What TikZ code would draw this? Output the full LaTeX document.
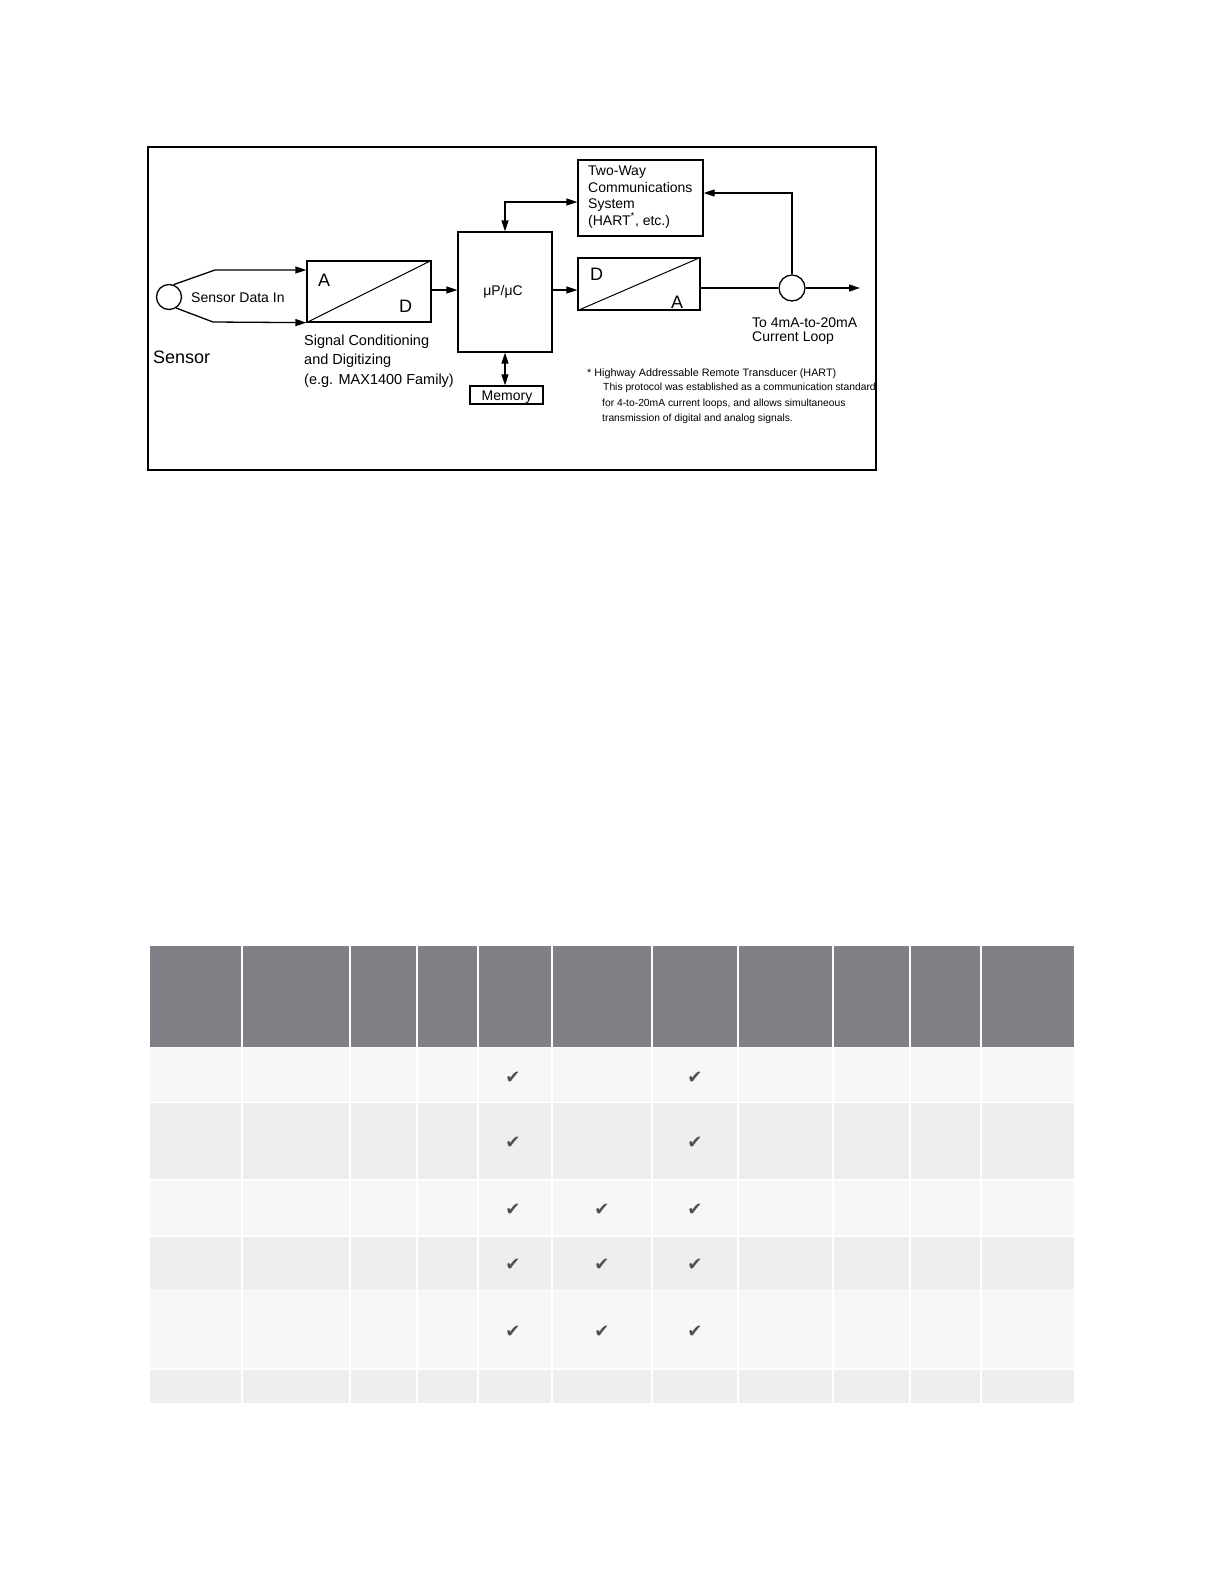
\documentclass[tikz,border=0pt]{standalone}
\usepackage{fontspec}
\setmainfont{Liberation Sans}
\newfontfamily\dejavu{DejaVu Sans}
\usetikzlibrary{arrows.meta}
\definecolor{hdr}{RGB}{128,129,134}
\definecolor{rowa}{RGB}{246,247,249}
\definecolor{rowb}{RGB}{237,238,240}
\definecolor{chk}{RGB}{80,80,80}
\tikzset{
  blk/.style={draw, line width=1.3pt, inner sep=0pt},
  lbl/.style={inner sep=0pt, anchor=base west, font=\fontsize{14}{16}\selectfont},
  big/.style={inner sep=0pt, anchor=base west, font=\fontsize{18}{20}\selectfont},
  note/.style={inner sep=0pt, anchor=base west, font=\fontsize{10.3}{12}\selectfont},
  arr/.style={line width=1.3pt, -{Triangle[length=11pt,width=7pt]}},
  arrboth/.style={line width=1.3pt, {Triangle[length=11pt,width=7pt]}-{Triangle[length=11pt,width=7pt]}},
  wire/.style={line width=1.3pt},
  chkmark/.style={inner sep=0pt, text=chk, font=\dejavu\fontsize{18}{18}\selectfont},
  gap/.style={white, line width=1.6pt}
}
\begin{document}
\begin{tikzpicture}[x=1pt,y=-1pt]
\useasboundingbox (0,0) rectangle (1225,1585);
\fill[white] (0,0) rectangle (1225,1585);

% frame
\draw[line width=1.3pt] (148,147) rectangle (876,470);

% blocks
\node[blk, circle, minimum size=25pt] (sensor) at (169,297) {};
\node[blk, minimum width=124pt, minimum height=61pt] (ad) at (369,291.5) {};
\node[blk, minimum width=94pt, minimum height=120pt] (up) at (505,292) {};
\node[blk, minimum width=73pt, minimum height=18pt] (mem) at (506.5,395) {};
\node[blk, minimum width=125pt, minimum height=76pt] (comm) at (640.5,198) {};
\node[blk, minimum width=122pt, minimum height=52pt] (da) at (639,284) {};
\node[blk, circle, minimum size=26pt] (junc) at (792,288) {};
\coordinate (out) at (860,288);
\coordinate (tk) at (215,270);
\coordinate (bk) at (213,322);

% diagonals
\draw[line width=1pt] (ad.south west) -- (ad.north east);
\draw[line width=1pt] (da.south west) -- (da.north east);

% labels inside blocks
\node[big] (adA) at (318,286) {A};
\node[big] (adD) at (399,312) {D};
\node[big] (daD) at (590,280) {D};
\node[big] (daA) at (671,308) {A};
\node[lbl, anchor=base] (uptxt) at (503,295) {μP/μC};
\node[lbl, anchor=base] (memtxt) at (507,400) {Memory};
\node[lbl] (c1) at (588,175) {Two-Way};
\node[lbl] (c2) at (588,192) {Communications};
\node[lbl] (c3) at (588,208) {System};
\node[lbl] (c4) at (588,225) {(HART\textsuperscript{*}, etc.)};

% other labels
\node[lbl] (sdi) at (191,302) {Sensor Data In};
\node[big] (sens) at (153,363) {Sensor};
\node[lbl, font=\fontsize{14.5}{16}\selectfont] (s1) at (304,345) {Signal Conditioning};
\node[lbl, font=\fontsize{14.5}{16}\selectfont] (s2) at (304,364) {and Digitizing};
\node[lbl, font=\fontsize{14.5}{16}\selectfont] (s3) at (304,384) {(e.g. MAX1400 Family)};
\node[lbl] (t1) at (752,327) {To 4mA-to-20mA};
\node[lbl] (t2) at (752,341) {Current Loop};
\node[note, font=\fontsize{10.8}{12}\selectfont] (n1) at (587,376) {* Highway Addressable Remote Transducer (HART)};
\node[note] (n2) at (603,390) {This protocol was established as a communication standard};
\node[note] (n3) at (602,406) {for 4-to-20mA current loops, and allows simultaneous};
\node[note] (n4) at (602,421) {transmission of digital and analog signals.};

% connectors
\draw[arr] (sensor.70) -- (tk) -- (ad.west |- tk);
\draw[arr] (sensor.-57) -- (bk) -- (ad.south west);
\draw[arr] (ad.east |- 0,290) -- (up.west |- 0,290);
\draw[arr] (up.east |- 0,290) -- (da.west |- 0,290);
\draw[wire] (da.east |- junc) -- (junc.west);
\draw[arr] (junc.east) -- (out);
\draw[arr] (junc.north) |- (comm.east |- 0,193);
\draw[arrboth] (up.north) |- (comm.west |- 0,202);
\draw[arrboth] (up.south) -- (up.south |- mem.north);

% table
\fill[hdr] (150,946) rectangle (1074,1047.5);
\fill[rowa] (150,1047.5) rectangle (1074,1102.5);
\fill[rowb] (150,1102.5) rectangle (1074,1180);
\fill[rowa] (150,1180) rectangle (1074,1236);
\fill[rowb] (150,1236) rectangle (1074,1290.5);
\fill[rowa] (150,1290.5) rectangle (1074,1369);
\fill[rowb] (150,1369) rectangle (1074,1403);
\foreach \x in {242,350,417,478,552,652,738,833,910,981}
  \draw[gap] (\x,946) -- (\x,1403);
\foreach \y in {1047.5,1102.5,1180,1236,1290.5,1369}
  \draw[gap] (150,\y) -- (1074,\y);

% check marks
\foreach \y/\n in {1078/1,1143/2,1210/3,1265/4,1332/5}{
  \node[chkmark] (ca\n) at (513,\y) {✔};
  \node[chkmark] (cc\n) at (695,\y) {✔};
}
\foreach \y/\n in {1210/3,1265/4,1332/5}{
  \node[chkmark] (cb\n) at (602,\y) {✔};
}
\end{tikzpicture}
\end{document}
